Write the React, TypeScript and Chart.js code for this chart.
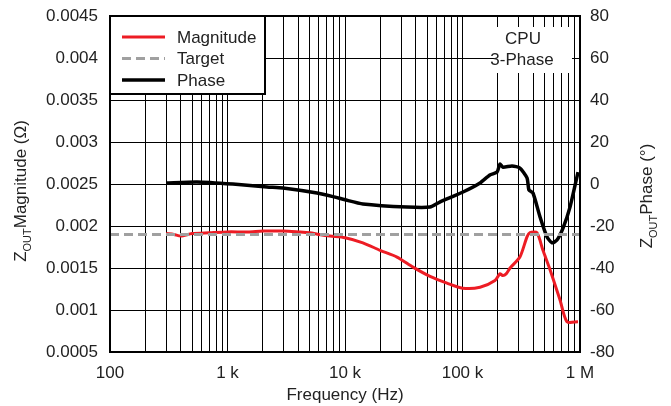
import { useEffect, useRef } from "react";
import { Chart, registerables } from "chart.js";

Chart.register(...registerables);

// Zout magnitude (ohm) vs frequency (Hz)
const magFreq = [
  300, 350, 400, 500, 700, 1000, 1500, 2000, 3000, 4000, 5000, 6000, 7450,
  10000, 14200, 19900, 27700, 37900, 52900, 73800, 100000, 141000, 189000,
  208000, 221000, 235000, 254000, 308000, 354000, 375000, 430000, 484000,
  556000, 676000, 775000, 962000,
];
const magValues = [
  0.00191, 0.0019, 0.00188, 0.00191, 0.00192, 0.00193, 0.00193, 0.00194,
  0.00194, 0.00193, 0.00192, 0.0019, 0.00188, 0.00186, 0.0018, 0.00171,
  0.00163, 0.00151, 0.0014, 0.00132, 0.00126, 0.00127, 0.00135, 0.00143,
  0.00141, 0.00143, 0.0015, 0.00163, 0.00187, 0.00192, 0.00192, 0.00171,
  0.00148, 0.00112, 0.00086, 0.00086,
];

// Zout phase (deg) vs frequency (Hz)
const phaseFreq = [
  300, 550, 1110, 2170, 2970, 5780, 7900, 10000, 14200, 33700, 52900, 64000,
  101000, 141000, 171000, 197000, 208000, 221000, 264000, 308000, 354000,
  368000, 398000, 457000, 524000, 578000, 637000, 717000, 822000, 962000,
];
const phaseValues = [
  0.5, 1, 0, -1.4, -1.9, -4.3, -6, -7.5, -9.5, -11, -11, -8.6, -3.8, 0.5, 4.3,
  5.7, 9.5, 8, 8.6, 7.6, 2.9, -2.9, -4.3, -15.7, -25.2, -28, -26.7, -21, -11,
  5.7,
];

const targetFreq = [100, 1000000];
const targetValues = [0.0019, 0.0019];

const decadeLabels: Record<number, string> = {
  100: "100",
  1000: "1 k",
  10000: "10 k",
  100000: "100 k",
  1000000: "1 M",
};

const legendItems = [
  { label: "Magnitude", color: "#ed1c24", dash: [] as number[], width: 3 },
  { label: "Target", color: "#a0a0a0", dash: [9, 5], width: 3 },
  { label: "Phase", color: "#000000", dash: [] as number[], width: 3.5 },
];

const FONT = "'Liberation Sans', Arial, sans-serif";
const FS = 17;

const freqTicks: number[] = [];
for (let d = 100; d < 1000000; d *= 10) {
  for (let m = 1; m < 10; m++) freqTicks.push(d * m);
}
freqTicks.push(1000000);

const toXY = (xs: number[], ys: number[]) => xs.map((x, i) => ({ x, y: ys[i] }));

// draws a rotated "Z_OUT <rest>" axis title centred at (cx, cy)
const drawRotTitle = (ctx: CanvasRenderingContext2D, cx: number, cy: number, rest: string) => {
  ctx.save();
  ctx.translate(cx, cy);
  ctx.rotate(-Math.PI / 2);
  ctx.fillStyle = "#222";
  ctx.textBaseline = "alphabetic";
  ctx.textAlign = "left";
  const big = `${FS}px ${FONT}`;
  const small = `11px ${FONT}`;
  ctx.font = big;
  const wz = ctx.measureText("Z").width;
  const wr = ctx.measureText(rest).width;
  ctx.font = small;
  const wo = ctx.measureText("OUT").width;
  let x = -(wz + wo + wr) / 2;
  ctx.font = big;
  ctx.fillText("Z", x, 0);
  x += wz;
  ctx.font = small;
  ctx.fillText("OUT", x, 5);
  x += wo;
  ctx.font = big;
  ctx.fillText(rest, x, 0);
  ctx.restore();
};

const overlayPlugin = {
  id: "overlay",
  afterDatasetsDraw(chart: Chart) {
    const { ctx, chartArea: a } = chart;
    ctx.save();
    // CPU label box
    ctx.fillStyle = "#fff";
    ctx.fillRect(495, 27, 77, 46);
    ctx.fillStyle = "#222";
    ctx.font = `${FS}px ${FONT}`;
    ctx.textAlign = "center";
    ctx.textBaseline = "middle";
    ctx.fillText("CPU", 523, 39);
    ctx.fillText("3-Phase", 522, 60);

    // legend box
    ctx.fillStyle = "#fff";
    ctx.fillRect(a.left, a.top, 155, 78);
    ctx.strokeStyle = "#000";
    ctx.lineWidth = 2;
    ctx.strokeRect(a.left, a.top, 155, 78);
    legendItems.forEach((item, i) => {
      const y = a.top + 21 + i * 21.5;
      ctx.beginPath();
      ctx.setLineDash(item.dash);
      ctx.strokeStyle = item.color;
      ctx.lineWidth = item.width;
      ctx.moveTo(a.left + 12, y);
      ctx.lineTo(a.left + 55, y);
      ctx.stroke();
      ctx.setLineDash([]);
      ctx.fillStyle = "#222";
      ctx.textAlign = "left";
      ctx.fillText(item.label, a.left + 67, y + 1);
    });

    // plot frame
    ctx.strokeStyle = "#000";
    ctx.lineWidth = 2;
    ctx.strokeRect(a.left, a.top, a.right - a.left, a.bottom - a.top);
    ctx.restore();

    drawRotTitle(ctx, 26, 191, "Magnitude (\u03a9)");
    drawRotTitle(ctx, 652, 196, "Phase (\u00b0)");
  },
};

const fixY = (w: number) => (scale: any) => {
  scale.width = w;
  scale.paddingTop = 0;
  scale.paddingBottom = 0;
};

const ZoutChart = () => {
  const canvasRef = useRef<HTMLCanvasElement>(null);

  useEffect(() => {
    if (!canvasRef.current) return;
    const ctx = canvasRef.current.getContext("2d");

    const myChart = new Chart(ctx!, {
      type: "line",
      data: {
        datasets: [
          {
            label: "Target",
            data: toXY(targetFreq, targetValues),
            borderColor: "#a0a0a0",
            borderWidth: 3,
            borderDash: [9, 5],
            pointRadius: 0,
            yAxisID: "y",
          },
          {
            label: "Magnitude",
            data: toXY(magFreq, magValues),
            borderColor: "#ed1c24",
            borderWidth: 3,
            pointRadius: 0,
            tension: 0.25,
            yAxisID: "y",
          },
          {
            label: "Phase",
            data: toXY(phaseFreq, phaseValues),
            borderColor: "#000",
            borderWidth: 3.5,
            pointRadius: 0,
            tension: 0.2,
            yAxisID: "y1",
          },
        ],
      },
      options: {
        animation: false,
        responsive: true,
        maintainAspectRatio: false,
        layout: { padding: { top: 16, left: 0, right: 0, bottom: 0 } },
        font: { family: FONT },
        plugins: {
          legend: { display: false },
          tooltip: { enabled: false },
        },
        scales: {
          x: {
            type: "logarithmic",
            min: 100,
            max: 1000000,
            afterBuildTicks: (scale: any) => {
              scale.ticks = freqTicks.map((value) => ({ value }));
            },
            afterFit: (scale: any) => {
              scale.height = 54;
              scale.paddingLeft = 0;
              scale.paddingRight = 0;
            },
            grid: { color: "#000", lineWidth: 1, drawTicks: false },
            border: { display: false },
            ticks: {
              autoSkip: false,
              maxRotation: 0,
              padding: 11,
              color: "#222",
              font: { family: FONT, size: FS },
              callback: (value: any) => decadeLabels[Number(value)] ?? "",
            },
            title: {
              display: true,
              text: "Frequency (Hz)",
              color: "#222",
              font: { family: FONT, size: FS },
              padding: { top: 0, bottom: 0 },
            },
          },
          y: {
            position: "left",
            min: 0.0005,
            max: 0.0045,
            afterFit: fixY(110),
            grid: { color: "#000", lineWidth: 1, drawTicks: false },
            border: { display: false },
            ticks: {
              stepSize: 0.0005,
              padding: 12,
              color: "#222",
              font: { family: FONT, size: FS },
              callback: (value: any) => String(Number(Number(value).toFixed(4))),
            },
          },
          y1: {
            position: "right",
            min: -80,
            max: 80,
            afterFit: fixY(91),
            grid: { drawOnChartArea: false, drawTicks: false },
            border: { display: false },
            ticks: {
              stepSize: 20,
              padding: 10,
              color: "#222",
              font: { family: FONT, size: FS },
            },
          },
        },
      },
      plugins: [overlayPlugin],
    });

    return () => {
      myChart.destroy();
    };
  }, []);

  return (
    <div style={{ position: "fixed", left: 0, top: 0, width: 671, height: 406, background: "#fff" }}>
      <canvas ref={canvasRef}></canvas>
    </div>
  );
};

export default function App() {
  return <ZoutChart />;
}
